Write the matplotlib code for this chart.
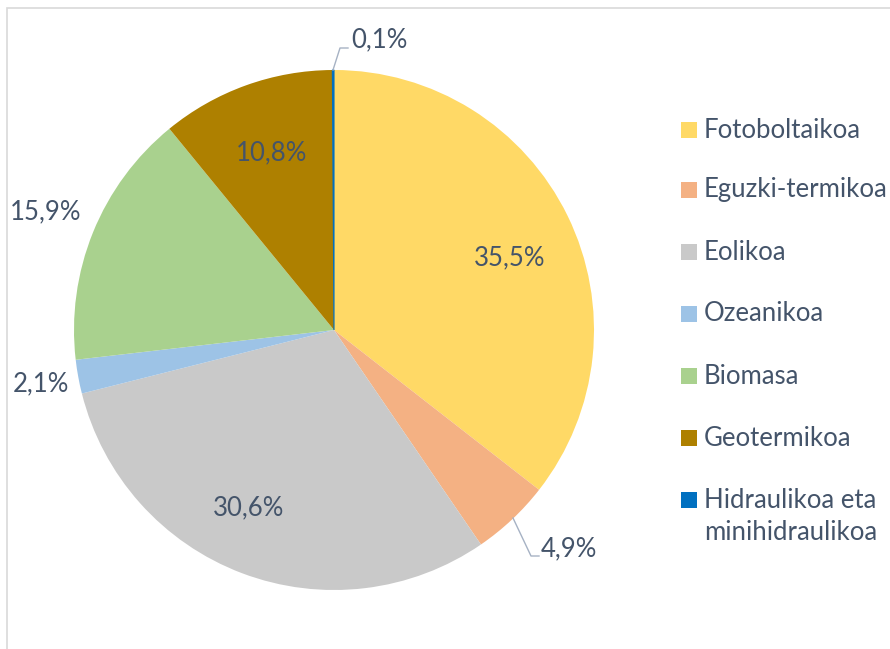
import matplotlib.pyplot as plt
from matplotlib.patches import Rectangle

plt.rcParams['font.family'] = ['Lato', 'DejaVu Sans']

labels = ["Fotoboltaikoa", "Eguzki-termikoa", "Eolikoa", "Ozeanikoa",
          "Biomasa", "Geotermikoa", "Hidraulikoa eta\nminihidraulikoa"]
shares = [35.5, 4.9, 30.6, 2.1, 15.9, 10.8, 0.1]
colors = ["#FFD966", "#F4B183", "#C9C9C9", "#9DC3E6",
          "#A9D18E", "#AE8000", "#0070C0"]

TEXT = "#44546A"
FS = 18.5
W, H = 890, 649

fig = plt.figure(figsize=(W / 100, H / 100), dpi=100)

# chart frame (cropped at right/bottom)
fig.patches.append(Rectangle((7 / W, -0.05), 1.1, 1 - 8 / H + 0.05,
                             transform=fig.transFigure, fill=False,
                             edgecolor="#D9D9D9", linewidth=1.2))

cx, cy, r = 334, 330, 260
ax = fig.add_axes([(cx - r) / W, (H - cy - r) / H, 2 * r / W, 2 * r / H])
wedges, _ = ax.pie(shares, colors=colors, startangle=90, counterclock=False,
                   radius=1, wedgeprops=dict(linewidth=0))
# the tiny slice gets a hairline edge so it stays visible
wedges[-1].set_edgecolor(colors[-1])
wedges[-1].set_linewidth(0.8)
ax.set_xlim(-1, 1)
ax.set_ylim(-1, 1)
ax.set_aspect("auto")
ax.axis("off")


def px(x, y):
    return (x - cx) / r, (cy - y) / r


# label positions in pixel space (x, y), one per slice
label_pos = [(510, 258), (569, 549), (249, 508), (41, 384),
             (46, 212), (272, 153), (379, 40)]
for v, (x, y) in zip(shares, label_pos):
    s = f"{v:.1f}%".replace(".", ",")
    ax.text(*px(x, y), s, ha="center", va="center", fontsize=FS,
            color=TEXT, clip_on=False)

# leader lines for small outside labels
lead = "#A6B2C4"
ax.plot(*zip(px(333, 70), px(340, 48), px(348, 48)), color=lead, lw=1, clip_on=False)
ax.plot(*zip(px(513, 518), px(531, 556), px(539, 556)), color=lead, lw=1, clip_on=False)

# legend
rows_y = [130, 190, 252, 314, 376, 438, 500]
for lab, col, y in zip(labels, colors, rows_y):
    fig.patches.append(Rectangle((681 / W, (H - y - 8) / H), 16 / W, 16 / H,
                                 transform=fig.transFigure, facecolor=col,
                                 edgecolor="none"))
    for i, line in enumerate(lab.split("\n")):
        fig.text(704 / W, (H - y - 32 * i) / H, line, ha="left", va="center",
                 fontsize=FS, color=TEXT)

fig.savefig("out.png", dpi=100)
